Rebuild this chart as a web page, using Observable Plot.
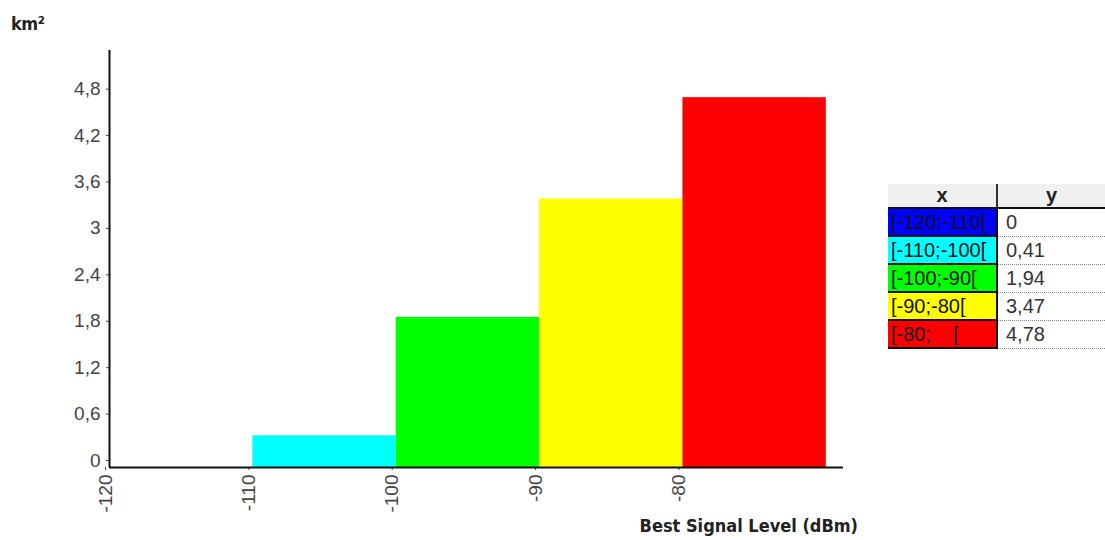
<!DOCTYPE html>
<html>
<head>
<meta charset="utf-8">
<script src="https://cdn.jsdelivr.net/npm/d3@7"></script>
<script src="https://cdn.jsdelivr.net/npm/@observablehq/plot@0.6"></script>
<style>
  html, body { margin: 0; padding: 0; background: #fff; }
  #wrap { position: relative; width: 1105px; height: 540px; overflow: hidden; }
  #chart { position: absolute; left: 0; top: 0; }
  #ytitle { position: absolute; left: 11px; top: 13px; font-family: "DejaVu Sans Condensed", "DejaVu Sans", sans-serif; font-weight: bold; font-size: 18px; letter-spacing: -0.5px; color: #222; }
  #xtitle { position: absolute; right: 247px; top: 515px; font-family: "DejaVu Sans Condensed", "DejaVu Sans", sans-serif; font-weight: bold; font-size: 18px; color: #222; white-space: nowrap; }
  #tbl { position: absolute; left: 888px; top: 184px; border-collapse: collapse; font-family: "Liberation Sans", Arial, sans-serif; font-size: 20px; }
  #tbl th { background: #f0f0f0; height: 23px; padding: 0; font-weight: bold; color: #222; border-bottom: 2px solid #111; }
  #tbl th.cx { width: 108px; border-right: 2px solid #333; }
  #tbl th.cy { width: 107px; }
  #tbl td { height: 26px; padding: 0; white-space: nowrap; overflow: hidden; }
  #tbl td.cx { padding-left: 3px; color: #111; border-right: 2px solid #111; border-bottom: 2px solid #111; }
  #tbl td.cy { padding-left: 8px; color: #333; border-bottom: 1px dotted #888; }
</style>
</head>
<body>
<div id="wrap">
  <div id="chart"></div>
  <div id="ytitle">km²</div>
  <div id="xtitle">Best Signal Level (dBm)</div>
  <table id="tbl"></table>
</div>
<script>
const binStart = [-120, -110, -100, -90, -80];
const binEnd = [-110, -100, -90, -80, -70];
const values = [0, 0.41, 1.94, 3.47, 4.78];
const colors = ["#0000ff", "#00ffff", "#00ff00", "#ffff00", "#ff0000"];
const rangeLabels = ["[-120;-110[", "[-110;-100[", "[-100;-90[", "[-90;-80[", "[-80;\u00a0\u00a0\u00a0\u00a0["];
const valueLabels = ["0", "0,41", "1,94", "3,47", "4,78"];
const yTicks = [0, 0.6, 1.2, 1.8, 2.4, 3, 3.6, 4.2, 4.8];
const xTicks = [-120, -110, -100, -90, -80];

const data = binStart.map((s, i) => ({x1: s, x2: binEnd[i], y: values[i], color: colors[i]}));

const chart = Plot.plot({
  width: 870,
  height: 540,
  marginLeft: 109,
  marginRight: 27,
  marginTop: 50,
  marginBottom: 73,
  x: {domain: [-120, -68.8]},
  y: {domain: [0, 5.39]},
  color: {type: "identity"},
  style: {fontFamily: "'Liberation Sans', Arial, sans-serif", fontSize: "19px", color: "#444", background: "#fff"},
  marks: [
    Plot.rectY(data, {x1: "x1", x2: "x2", y: "y", fill: "color"}),
    Plot.axisY({ticks: yTicks, tickSize: 3, tickPadding: 6, dy: -7, label: null,
      tickFormat: d => String(d).replace(".", ",")}),
    Plot.axisX({ticks: xTicks, tickSize: 3, tickPadding: 4, tickRotate: -90, dx: -4, label: null,
      tickFormat: d => String(d)}),
    Plot.ruleX([-120], {stroke: "#111", strokeWidth: 2}),
    Plot.ruleY([0], {stroke: "#111", strokeWidth: 2})
  ]
});
document.getElementById("chart").appendChild(chart);

const tbl = document.getElementById("tbl");
const head = document.createElement("tr");
head.innerHTML = '<th class="cx">x</th><th class="cy">y</th>';
tbl.appendChild(head);
rangeLabels.forEach((lab, i) => {
  const tr = document.createElement("tr");
  const a = document.createElement("td");
  a.className = "cx";
  a.style.background = colors[i];
  a.textContent = lab;
  const b = document.createElement("td");
  b.className = "cy";
  b.textContent = valueLabels[i];
  tr.appendChild(a);
  tr.appendChild(b);
  tbl.appendChild(tr);
});
</script>
</body>
</html>
